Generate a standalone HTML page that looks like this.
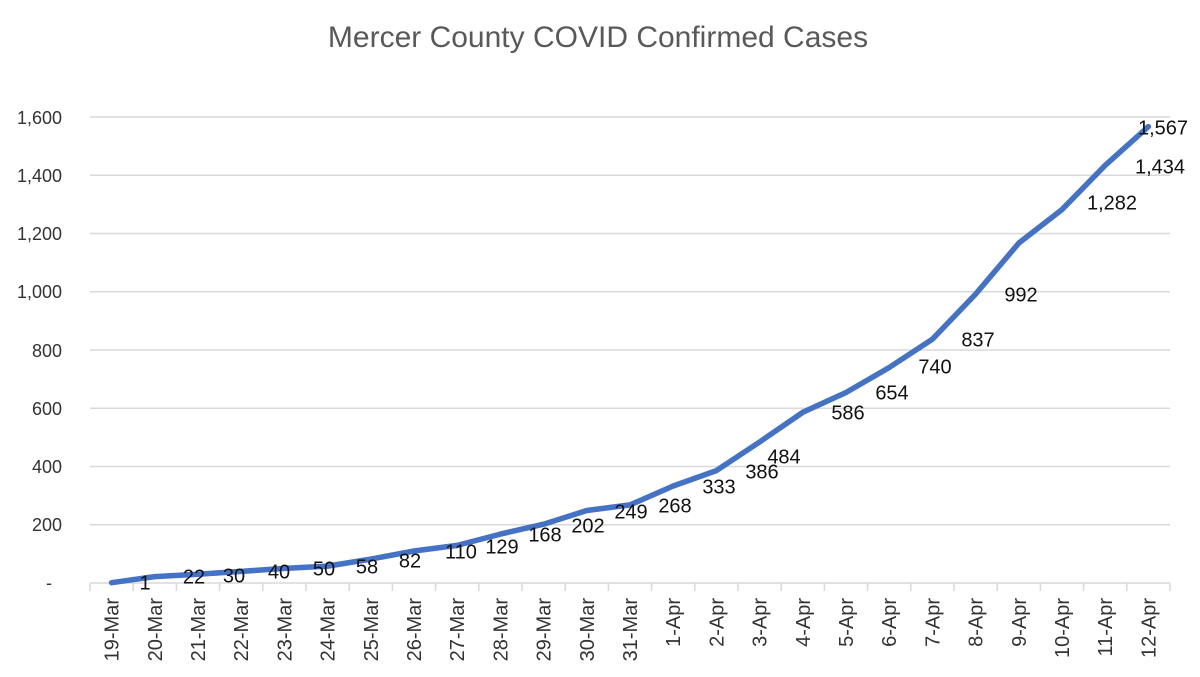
<!DOCTYPE html>
<html><head><meta charset="utf-8"><style>
body{margin:0;background:#fff;}
svg{display:block;font-family:"Liberation Sans",Calibri,sans-serif;}
</style></head><body>
<svg width="1200" height="677" viewBox="0 0 1200 677" xmlns="http://www.w3.org/2000/svg">
<rect width="1200" height="677" fill="#fff"/>
<text x="598" y="47" font-size="30" fill="#595959" text-anchor="middle">Mercer County COVID Confirmed Cases</text>
<g stroke="#d9d9d9" stroke-width="1.5">
<line x1="90" x2="1170" y1="117" y2="117"/>
<line x1="90" x2="1170" y1="175.25" y2="175.25"/>
<line x1="90" x2="1170" y1="233.5" y2="233.5"/>
<line x1="90" x2="1170" y1="291.75" y2="291.75"/>
<line x1="90" x2="1170" y1="350" y2="350"/>
<line x1="90" x2="1170" y1="408.25" y2="408.25"/>
<line x1="90" x2="1170" y1="466.5" y2="466.5"/>
<line x1="90" x2="1170" y1="524.75" y2="524.75"/>
<line x1="90" x2="1170" y1="583" y2="583"/>
</g>
<g font-size="18" fill="#333" text-anchor="end">
<text x="62" y="124">1,600</text>
<text x="62" y="182">1,400</text>
<text x="62" y="240">1,200</text>
<text x="62" y="298">1,000</text>
<text x="62" y="357">800</text>
<text x="62" y="415">600</text>
<text x="62" y="473">400</text>
<text x="62" y="531">200</text>
<text x="52" y="589">-</text>
</g>
<g id="ticks" stroke="#d9d9d9" stroke-width="1.5"></g>
<g id="xl" font-size="20" fill="#333"></g>
<polyline id="ln" fill="none" stroke="#4472C4" stroke-width="5.5" stroke-linejoin="round" stroke-linecap="round"/>
<g font-size="20" fill="#111" text-anchor="middle" dominant-baseline="middle">
<text x="145" y="584">1</text>
<text x="194" y="578">22</text>
<text x="234" y="577">30</text>
<text x="279" y="573">40</text>
<text x="324" y="570">50</text>
<text x="367" y="568">58</text>
<text x="410" y="562">82</text>
<text x="461" y="553">110</text>
<text x="502" y="548">129</text>
<text x="545" y="536">168</text>
<text x="588" y="527">202</text>
<text x="631" y="513">249</text>
<text x="675" y="507">268</text>
<text x="719" y="488">333</text>
<text x="762" y="473">386</text>
<text x="784" y="458">484</text>
<text x="848" y="414">586</text>
<text x="892" y="394">654</text>
<text x="935" y="368">740</text>
<text x="978" y="341">837</text>
<text x="1021" y="296">992</text>
<text x="1112" y="204">1,282</text>
<text x="1160" y="168">1,434</text>
<text x="1163" y="129">1,567</text>
</g>
<script>
var v=[1,22,30,40,50,58,82,110,129,168,202,249,268,333,386,484,586,654,740,837,992,1167,1282,1434,1567];
var lab=["19-Mar","20-Mar","21-Mar","22-Mar","23-Mar","24-Mar","25-Mar","26-Mar","27-Mar","28-Mar","29-Mar","30-Mar","31-Mar","1-Apr","2-Apr","3-Apr","4-Apr","5-Apr","6-Apr","7-Apr","8-Apr","9-Apr","10-Apr","11-Apr","12-Apr"];
var ns="http://www.w3.org/2000/svg",pts=[],t=document.getElementById("ticks"),xl=document.getElementById("xl");
for(var i=0;i<25;i++){var x=111.6+43.2*i;pts.push(x.toFixed(1)+","+(583-v[i]*0.29125).toFixed(1));
var tx=document.createElementNS(ns,"text");tx.setAttribute("transform","translate("+(x+7)+",598) rotate(-90)");tx.setAttribute("text-anchor","end");tx.textContent=lab[i];xl.appendChild(tx);}
for(var k=0;k<=25;k++){var bx=90+43.2*k;var l=document.createElementNS(ns,"line");l.setAttribute("x1",bx);l.setAttribute("x2",bx);l.setAttribute("y1",583);l.setAttribute("y2",591);t.appendChild(l);}
document.getElementById("ln").setAttribute("points",pts.join(" "));
</script>
</svg>
</body></html>
